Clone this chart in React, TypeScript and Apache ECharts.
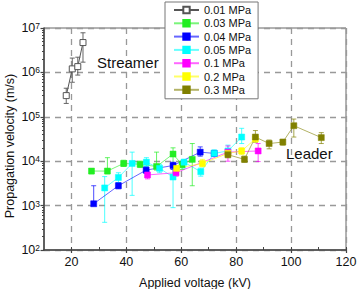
import React, { useEffect, useRef } from 'react';
import * as echarts from 'echarts';

const seriesNames = ['0.01 MPa', '0.03 MPa', '0.04 MPa', '0.05 MPa', '0.1 MPa', '0.2 MPa', '0.3 MPa'];
const seriesColors = ['#555555', '#22ee22', '#0000ff', '#00ffff', '#ff00ff', '#ffff00', '#808000'];

// 0.01 MPa (streamer)
const x001 = [18.1, 20.3, 22.3, 24.2];
const v001 = [3.0e5, 1.2e6, 1.35e6, 4.7e6];
const hi001 = [4.4e5, 2.1e6, 2.2e6, 7.8e6];
const lo001 = [2.0e5, 6.0e5, 8.7e5, 1.7e6];

// 0.03 MPa
const x003 = [27.3, 33.1, 39, 45, 51, 57, 60.3, 64];
const v003 = [6.0e3, 6.0e3, 8.9e3, 8.5e3, 7.6e3, 1.45e4, 8.3e3, 1.1e4];
const hi003 = [6.8e3, 1.2e4, 1.05e4, 1.0e4, 1.6e4, 2.0e4, 1.0e4, 2.5e4];
const lo003 = [5.2e3, 5.2e3, 7.6e3, 7.2e3, 6.3e3, 4.5e3, 6.5e3, 2.8e3];

// 0.04 MPa
const x004 = [28.1, 37.1, 47.2, 57, 66.9, 72];
const v004 = [1.1e3, 2.8e3, 6.3e3, 8.0e3, 1.6e4, 1.5e4];
const hi004 = [2.8e3, 3.3e3, 7.5e3, 9.5e3, 2.1e4, 1.7e4];
const lo004 = [null, 2.4e3, 5.3e3, 6.5e3, 1.3e4, 1.3e4];

// 0.05 MPa
const x005 = [32.1, 37.1, 42.1, 47.3, 52.1, 57, 61, 67.1, 72, 77, 82];
const v005 = [2.5e3, 4.3e3, 8.9e3, 9.5e3, 6.9e3, 4.4e3, 9.5e3, 5.8e3, 1.5e4, 1.7e4, 3.5e4];
const hi005 = [4.5e3, 5.5e3, 1.6e4, 1.2e4, 8.5e3, 8.7e3, 1.1e4, 7.0e3, 1.8e4, 2.3e4, 5.5e4];
const lo005 = [4.2e2, 3.3e3, 1.7e3, 7.5e3, 5.5e3, 9.0e2, 7.0e3, 4.6e3, 1.3e4, 1.3e4, 2.5e4];

// 0.1 MPa
const x01 = [47.7, 58.1, 77, 88];
const v01 = [4.9e3, 5.5e3, 1.6e4, 1.7e4];
const hi01 = [6.0e3, 6.5e3, 2.2e4, 2.5e4];
const lo01 = [4.0e3, 4.6e3, 1.0e4, 9.8e3];

// 0.2 MPa
const x02 = [58.3, 67.7, 77, 82, 87];
const v02 = [6.9e3, 8.9e3, 1.5e4, 1.7e4, 3.2e4];
const hi02 = [8.0e3, 1.1e4, 1.8e4, 2.0e4, 3.8e4];
const lo02 = [6.0e3, 7.5e3, 1.3e4, 1.4e4, 2.7e4];

// 0.3 MPa (leader)
const x03 = [77, 83, 87, 92, 97, 101, 111];
const v03 = [1.4e4, 1.1e4, 3.5e4, 2.5e4, 2.7e4, 6.3e4, 3.4e4];
const hi03 = [1.7e4, 1.3e4, 4.9e4, 3.0e4, 3.1e4, 8.9e4, 4.4e4];
const lo03 = [1.2e4, 9.5e3, 2.7e4, 1.9e4, 2.3e4, 3.5e4, 2.5e4];

const xTickLabels = [20, 40, 60, 80, 100, 120];
const xAllTicks = [20, 30, 40, 50, 60, 70, 80, 90, 100, 110, 120];

const allX = [x001, x003, x004, x005, x01, x02, x03];
const allV = [v001, v003, v004, v005, v01, v02, v03];
const allHi = [hi001, hi003, hi004, hi005, hi01, hi02, hi03];
const allLo = [lo001, lo003, lo004, lo005, lo01, lo02, lo03];

const FONT = 'Liberation Sans, Arial, sans-serif';

function minorLogTicks(): number[] {
  const out: number[] = [];
  for (let d = 2; d < 7; d++) {
    for (let k = 2; k <= 9; k++) out.push(d + Math.log10(k));
  }
  return out;
}

export default function App() {
  const ref = useRef<HTMLDivElement>(null);
  useEffect(() => {
    if (!ref.current) return;
    const chart = echarts.init(ref.current, null, { renderer: 'svg' });

    const lineSeries = seriesNames.map((name, i) => ({
      type: 'line',
      name,
      data: allX[i].map((x, j) => [x, allV[i][j]]),
      xAxisIndex: 0,
      yAxisIndex: 0,
      symbol: 'rect',
      symbolSize: 6,
      z: 3,
      lineStyle: { color: seriesColors[i], width: 1, opacity: i === 0 ? 1 : 0.6 },
      itemStyle:
        i === 0
          ? { color: '#ffffff', borderColor: '#555555', borderWidth: 1 }
          : { color: seriesColors[i], borderColor: seriesColors[i], borderWidth: 0.5 },
      emphasis: { disabled: true },
    }));

    const errSeries = seriesNames.map((name, i) => {
      const color = seriesColors[i];
      return {
        type: 'custom',
        name: name + ' error',
        xAxisIndex: 0,
        yAxisIndex: 0,
        z: 2,
        silent: true,
        data: allX[i].map((x, j) => [x, allLo[i][j] == null ? allV[i][j] : allLo[i][j], allHi[i][j], allLo[i][j] == null ? 0 : 1]),
        encode: { x: 0, y: [1, 2] },
        renderItem: (params: any, api: any) => {
          const x = api.value(0);
          const lo = api.value(1);
          const hi = api.value(2);
          const hasLo = api.value(3);
          const a = api.coord([x, hi]);
          const b = api.coord([x, lo]);
          const w = 2.5;
          const style = { stroke: color, lineWidth: 1, opacity: i === 0 ? 0.9 : 0.7 };
          const children: any[] = [
            { type: 'line', shape: { x1: a[0], y1: a[1], x2: b[0], y2: b[1] }, style },
            { type: 'line', shape: { x1: a[0] - w, y1: a[1], x2: a[0] + w, y2: a[1] }, style },
          ];
          if (hasLo) children.push({ type: 'line', shape: { x1: b[0] - w, y1: b[1], x2: b[0] + w, y2: b[1] }, style });
          return { type: 'group', children };
        },
      };
    });

    const option: any = {
      animation: false,
      backgroundColor: '#ffffff',
      textStyle: { fontFamily: FONT },
      grid: {
        left: 44,
        right: 11,
        top: 28,
        bottom: 39,
        show: true,
        borderColor: '#666',
        borderWidth: 1,
        backgroundColor: 'transparent',
        outerBoundsMode: 'none',
        containLabel: false,
      },
      legend: {
        data: seriesNames,
        orient: 'vertical',
        left: 165,
        top: 2,
        padding: [2, 7, 3, 8],
        itemWidth: 25,
        itemHeight: 8,
        itemGap: 1.3,
        backgroundColor: '#ffffff',
        borderColor: '#777',
        borderWidth: 1,
        borderRadius: 0,
        z: 10,
        selectedMode: false,
        textStyle: { fontFamily: FONT, fontSize: 11, color: '#111', lineHeight: 12 },
      },
      xAxis: [
        {
          type: 'value',
          position: 'bottom',
          min: 10,
          max: 120,
          name: 'Applied voltage (kV)',
          nameLocation: 'middle',
          nameGap: 26,
          nameTextStyle: { fontFamily: FONT, fontSize: 12.5, color: '#111' },
          axisLine: { show: true, lineStyle: { color: '#444', width: 1.5 } },
          axisTick: { show: true, inside: false, length: 3, customValues: xTickLabels, lineStyle: { color: '#444', width: 1.2 } },
          axisLabel: { customValues: xTickLabels, fontFamily: FONT, fontSize: 12.5, color: '#111', margin: 5 },
          splitLine: { show: true, lineStyle: { color: '#999', type: [6, 5], width: 1.3 } },
        },
        {
          type: 'value',
          position: 'bottom',
          offset: 0,
          min: 10,
          max: 120,
          axisLine: { show: false },
          axisTick: { show: true, inside: true, length: 3, customValues: xAllTicks, lineStyle: { color: '#444', width: 1 } },
          axisLabel: { show: false },
          splitLine: { show: false },
        },
      ],
      yAxis: [
        {
          type: 'log',
          logBase: 10,
          position: 'left',
          min: 100,
          max: 10000000,
          axisLine: { show: true, lineStyle: { color: '#444', width: 1.5 } },
          axisTick: { show: true, inside: false, length: 3.5, lineStyle: { color: '#444', width: 1.2 } },
          axisLabel: {
            fontFamily: FONT,
            color: '#111',
            margin: 4,
            formatter: (v: number) => '{b|10}{s|' + Math.round(Math.log10(v)) + '}',
            rich: {
              b: { fontFamily: FONT, fontSize: 12.5, color: '#111', lineHeight: 13, verticalAlign: 'bottom' },
              s: { fontFamily: FONT, fontSize: 8.5, color: '#111', lineHeight: 9, verticalAlign: 'top', padding: [0, 0, 8, 0] },
            },
          },
          splitLine: { show: true, lineStyle: { color: '#999', type: [6, 5], width: 1.3 } },
        },
        {
          type: 'value',
          position: 'left',
          offset: 0,
          min: 2,
          max: 7,
          axisLine: { show: false },
          axisTick: { show: true, inside: false, length: 2, customValues: minorLogTicks(), lineStyle: { color: '#444', width: 1 } },
          axisLabel: { show: false },
          splitLine: { show: false },
        },
      ],
      graphic: [
        {
          type: 'text',
          x: 10,
          y: 146,
          rotation: Math.PI / 2,
          z: 20,
          style: {
            text: 'Propagation velocity (m/s)',
            fontFamily: FONT,
            fontSize: 12.5,
            fill: '#111',
            align: 'center',
            verticalAlign: 'middle',
          },
        },
        {
          type: 'text',
          x: 97,
          y: 62,
          z: 20,
          style: { text: 'Streamer', fontFamily: FONT, fontSize: 15, fill: '#111', align: 'left', verticalAlign: 'middle' },
        },
        {
          type: 'text',
          x: 286,
          y: 153,
          z: 20,
          style: { text: 'Leader', fontFamily: FONT, fontSize: 15, fill: '#111', align: 'left', verticalAlign: 'middle' },
        },
      ],
      series: [...errSeries, ...lineSeries],
    };

    chart.setOption(option);
    return () => chart.dispose();
  }, []);

  return <div ref={ref} style={{ width: 357, height: 289, position: 'absolute', left: 0, top: 0 }} />;
}
